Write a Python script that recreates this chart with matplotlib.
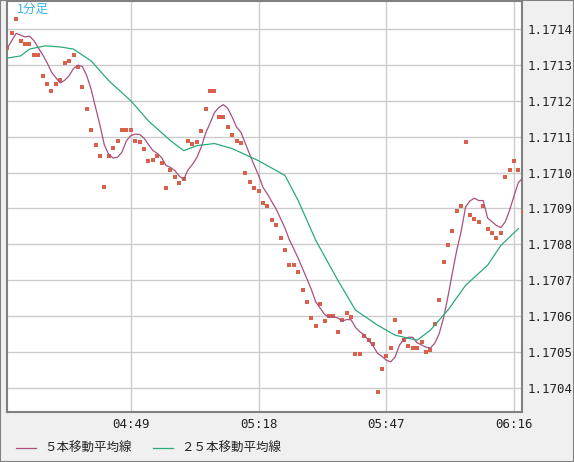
import matplotlib.pyplot as plt
import numpy as np
import pandas as pd

plt.rcParams['font.family'] = ['Noto Sans CJK JP', 'DejaVu Sans']

# 1-minute closes starting 04:21
prices = [1.171347, 1.171389, 1.171428, 1.171367, 1.171358, 1.171358, 1.171328, 1.171328,
          1.171269, 1.171247, 1.171228, 1.171247, 1.171258, 1.171306, 1.171311, 1.171328,
          1.171294, 1.171239, 1.171178, 1.171119, 1.171078, 1.171047, 1.170961, 1.171047,
          1.171069, 1.171089, 1.171119, 1.171119, 1.171119, 1.171089, 1.171086, 1.171067,
          1.171031, 1.171036, 1.171047, 1.171028, 1.170956, 1.171006, 1.170989, 1.170972,
          1.170983, 1.171089, 1.171081, 1.171086, 1.171117, 1.171178, 1.171228, 1.171228,
          1.171156, 1.171156, 1.171128, 1.171106, 1.171089, 1.171083, 1.171000, 1.170975,
          1.170956, 1.170950, 1.170914, 1.170908, 1.170867, 1.170853, 1.170817, 1.170783,
          1.170742, 1.170742, 1.170722, 1.170672, 1.170639, 1.170594, 1.170572, 1.170633,
          1.170586, 1.170600, 1.170600, 1.170556, 1.170589, 1.170608, 1.170597, 1.170494,
          1.170494, 1.170544, 1.170533, 1.170522, 1.170389, 1.170453, 1.170489, 1.170511,
          1.170589, 1.170556, 1.170533, 1.170517, 1.170511, 1.170511, 1.170528, 1.170500,
          1.170506, 1.170578, 1.170644, 1.170750, 1.170797, 1.170836, 1.170894, 1.170908,
          1.171086, 1.170883, 1.170872, 1.170861, 1.170908, 1.170842, 1.170833, 1.170819,
          1.170831, 1.170989, 1.171006, 1.171033, 1.171006, 1.170889]

# 25-period average (minute index, price)
ma25_idx = [0, 3, 5, 8.5, 12, 15, 19, 23, 28, 32, 37, 40, 43, 47, 51, 57, 63, 66, 70,
            75, 79, 84, 88, 93, 96, 100, 104, 109, 112, 116]
ma25_val = [1.171319, 1.171325, 1.171344, 1.171353, 1.171350, 1.171344, 1.171311, 1.171256,
            1.171200, 1.171144, 1.171089, 1.171061, 1.171075, 1.171081, 1.171067, 1.171033,
            1.170992, 1.170922, 1.170811, 1.170700, 1.170617, 1.170575, 1.170547, 1.170533,
            1.170561, 1.170617, 1.170686, 1.170742, 1.170797, 1.170844]

tick_pos = [28, 57, 86, 115]
tick_labels = ['04:49', '05:18', '05:47', '06:16']
y_ticks = [1.1704, 1.1705, 1.1706, 1.1707, 1.1708, 1.1709, 1.1710, 1.1711, 1.1712, 1.1713, 1.1714]

x = np.arange(len(prices))
ma5 = pd.Series(prices).rolling(5, min_periods=1).mean()

fig = plt.figure(figsize=(5.74, 4.62), dpi=100, facecolor='#f0f0f0')
ax = fig.add_axes([7 / 574, 50 / 462, 515 / 574, 411 / 462])
ax.set_facecolor('white')

ax.scatter(x, prices, marker='s', s=7, color='#d9604a', linewidths=0, zorder=3)
ax.plot(x, ma5, color='#a8507e', lw=0.9, zorder=4)
ax.plot(ma25_idx, ma25_val, color='#2aaa78', lw=0.9, zorder=4)

ax.set_xlim(-0.1, 116.8)
ax.set_ylim(1.170333, 1.171478)
ax.set_xticks(tick_pos)
ax.set_xticklabels(tick_labels)
ax.set_yticks(y_ticks)
ax.set_yticklabels(['%.4f' % v for v in y_ticks])
ax.yaxis.tick_right()
ax.tick_params(length=0, labelsize=9, colors='#222222', pad=4)
ax.grid(True, color='#cccccc', lw=1)
ax.set_axisbelow(True)
for s in ax.spines.values():
    s.set_color('#808080')
    s.set_linewidth(1.5)
for lbl in ax.get_xticklabels() + ax.get_yticklabels():
    lbl.set_family('DejaVu Sans Mono')

ax.text(0.02, 0.995, '1分足', transform=ax.transAxes, color='#3cb4e6', fontsize=9, va='top', ha='left')

# legend strip
fig.add_artist(plt.Line2D([16 / 574, 36 / 574], [14 / 462, 14 / 462], color='#a8507e', lw=0.9,
                          transform=fig.transFigure))
fig.text(44 / 574, 14 / 462, '５本移動平均線', fontsize=9, va='center', color='#222222')
fig.add_artist(plt.Line2D([153 / 574, 173 / 574], [14 / 462, 14 / 462], color='#2aaa78', lw=0.9,
                          transform=fig.transFigure))
fig.text(181 / 574, 14 / 462, '２５本移動平均線', fontsize=9, va='center', color='#222222')
fig.add_artist(plt.Rectangle((0, 0), 1, 1, fill=False, edgecolor='#808080', lw=1.5,
                             transform=fig.transFigure))

fig.savefig('out.png', dpi=100, facecolor=fig.get_facecolor())
